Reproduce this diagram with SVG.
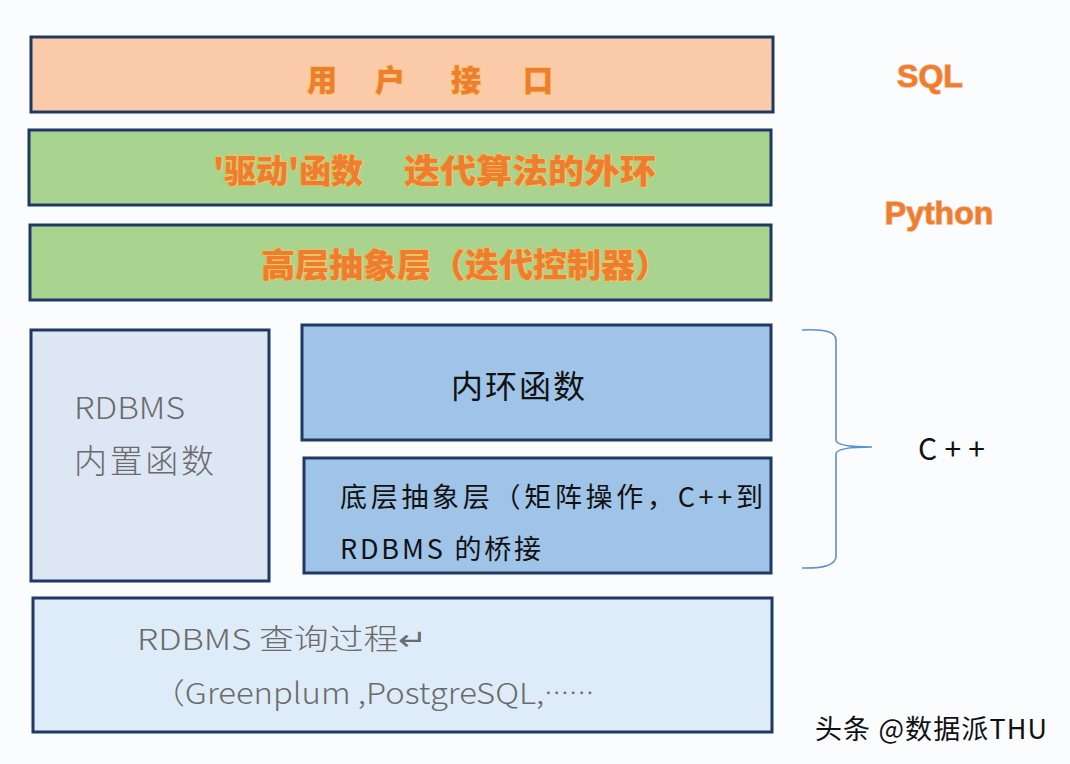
<svg xmlns="http://www.w3.org/2000/svg" width="1070" height="764" viewBox="0 0 1070 764">
<style>
.box{stroke:#1f3864;stroke-width:3}
.peach{fill:#fbcaa8}
.green{fill:#a9d48f}
.light{fill:#dce6f4}
.mid{fill:#9fc4e8}
.pale{fill:#deecf9}
.ttl{font-family:"Noto Sans CJK SC","Liberation Sans",sans-serif;font-weight:900;fill:#ed7d31;stroke:#f6c25a;stroke-width:1.6;paint-order:stroke;dominant-baseline:central}
.lang{font-family:"Liberation Sans","Noto Sans CJK SC",sans-serif;font-weight:700;fill:#ed7d31;stroke:#f4b183;stroke-width:1.5;paint-order:stroke;dominant-baseline:central}
.gray{font-family:"Noto Sans CJK SC","Liberation Sans",sans-serif;font-weight:300;fill:#6b6b6b;dominant-baseline:central}
.blk{font-family:"Noto Sans CJK SC","Liberation Sans",sans-serif;font-weight:400;fill:#111;dominant-baseline:central}
</style>
<rect width="1070" height="764" fill="#fafcfe"/>
<g id="user-interface">
<rect class="box peach" x="31" y="37" width="742" height="75"/>
<text class="ttl" font-size="30" x="322" y="78" text-anchor="middle">用</text>
<text class="ttl" font-size="30" x="390" y="78" text-anchor="middle">户</text>
<text class="ttl" font-size="30" x="466" y="78" text-anchor="middle">接</text>
<text class="ttl" font-size="30" x="538" y="78" text-anchor="middle">口</text>
</g>
<g id="driver">
<rect class="box green" x="29" y="130" width="742" height="75"/>
<text class="ttl" font-size="33" x="213" y="169" textLength="150" lengthAdjust="spacingAndGlyphs">'驱动'函数</text>
<text class="ttl" font-size="33" x="404" y="169" textLength="252" lengthAdjust="spacingAndGlyphs">迭代算法的外环</text>
</g>
<g id="high-abstraction">
<rect class="box green" x="30" y="225" width="741" height="75"/>
<text class="ttl" font-size="33" x="261" y="263" textLength="408" lengthAdjust="spacingAndGlyphs">高层抽象层（迭代控制器）</text>
</g>
<g id="rdbms-builtin">
<rect class="box light" x="31" y="330" width="238" height="251"/>
<text class="gray" font-size="30" x="74" y="406" textLength="111" lengthAdjust="spacingAndGlyphs">RDBMS</text>
<text class="gray" font-size="33" x="74" y="459" textLength="140" lengthAdjust="spacing">内置函数</text>
</g>
<g id="inner-loop">
<rect class="box mid" x="302" y="325" width="469" height="115"/>
<text class="blk" font-size="32" x="519" y="384" text-anchor="middle" letter-spacing="2">内环函数</text>
</g>
<g id="low-abstraction">
<rect class="box mid" x="304" y="458" width="467" height="115"/>
<text class="blk" font-size="27" x="340" y="495" textLength="423" lengthAdjust="spacing">底层抽象层（矩阵操作，C++到</text>
<text class="blk" font-size="27" x="340" y="547" textLength="201" lengthAdjust="spacing">RDBMS 的桥接</text>
</g>
<g id="rdbms-query">
<rect class="box pale" x="33" y="598" width="739" height="134"/>
<text class="gray" font-size="29" x="137" y="637" textLength="290" lengthAdjust="spacingAndGlyphs">RDBMS 查询过程↵</text>
<text class="gray" font-size="29" x="152" y="691" textLength="442" lengthAdjust="spacingAndGlyphs">（Greenplum ,PostgreSQL,<tspan font-family="Liberation Sans" font-size="22">······</tspan></text>
</g>
<g id="labels">
<text class="lang" font-size="32" x="930" y="76" text-anchor="middle">SQL</text>
<text class="lang" font-size="32" x="939" y="213" text-anchor="middle">Python</text>
<text class="blk" font-size="30" x="918" y="447" font-family="Liberation Sans" textLength="67" lengthAdjust="spacing">C++</text>
</g>
<g id="connectors">
<path d="M802,330 Q836,328 836,340 L836,440 Q836,447 872,447 Q836,447 836,454 L836,556 Q836,569 802,568" fill="none" stroke="#5b8fd0" stroke-width="1.6"/>
</g>
<text x="815" y="727" font-size="27" textLength="232" lengthAdjust="spacing" font-family="Noto Sans CJK SC,Liberation Sans,sans-serif" fill="#111" dominant-baseline="central">头条 @数据派THU</text>
</svg>
